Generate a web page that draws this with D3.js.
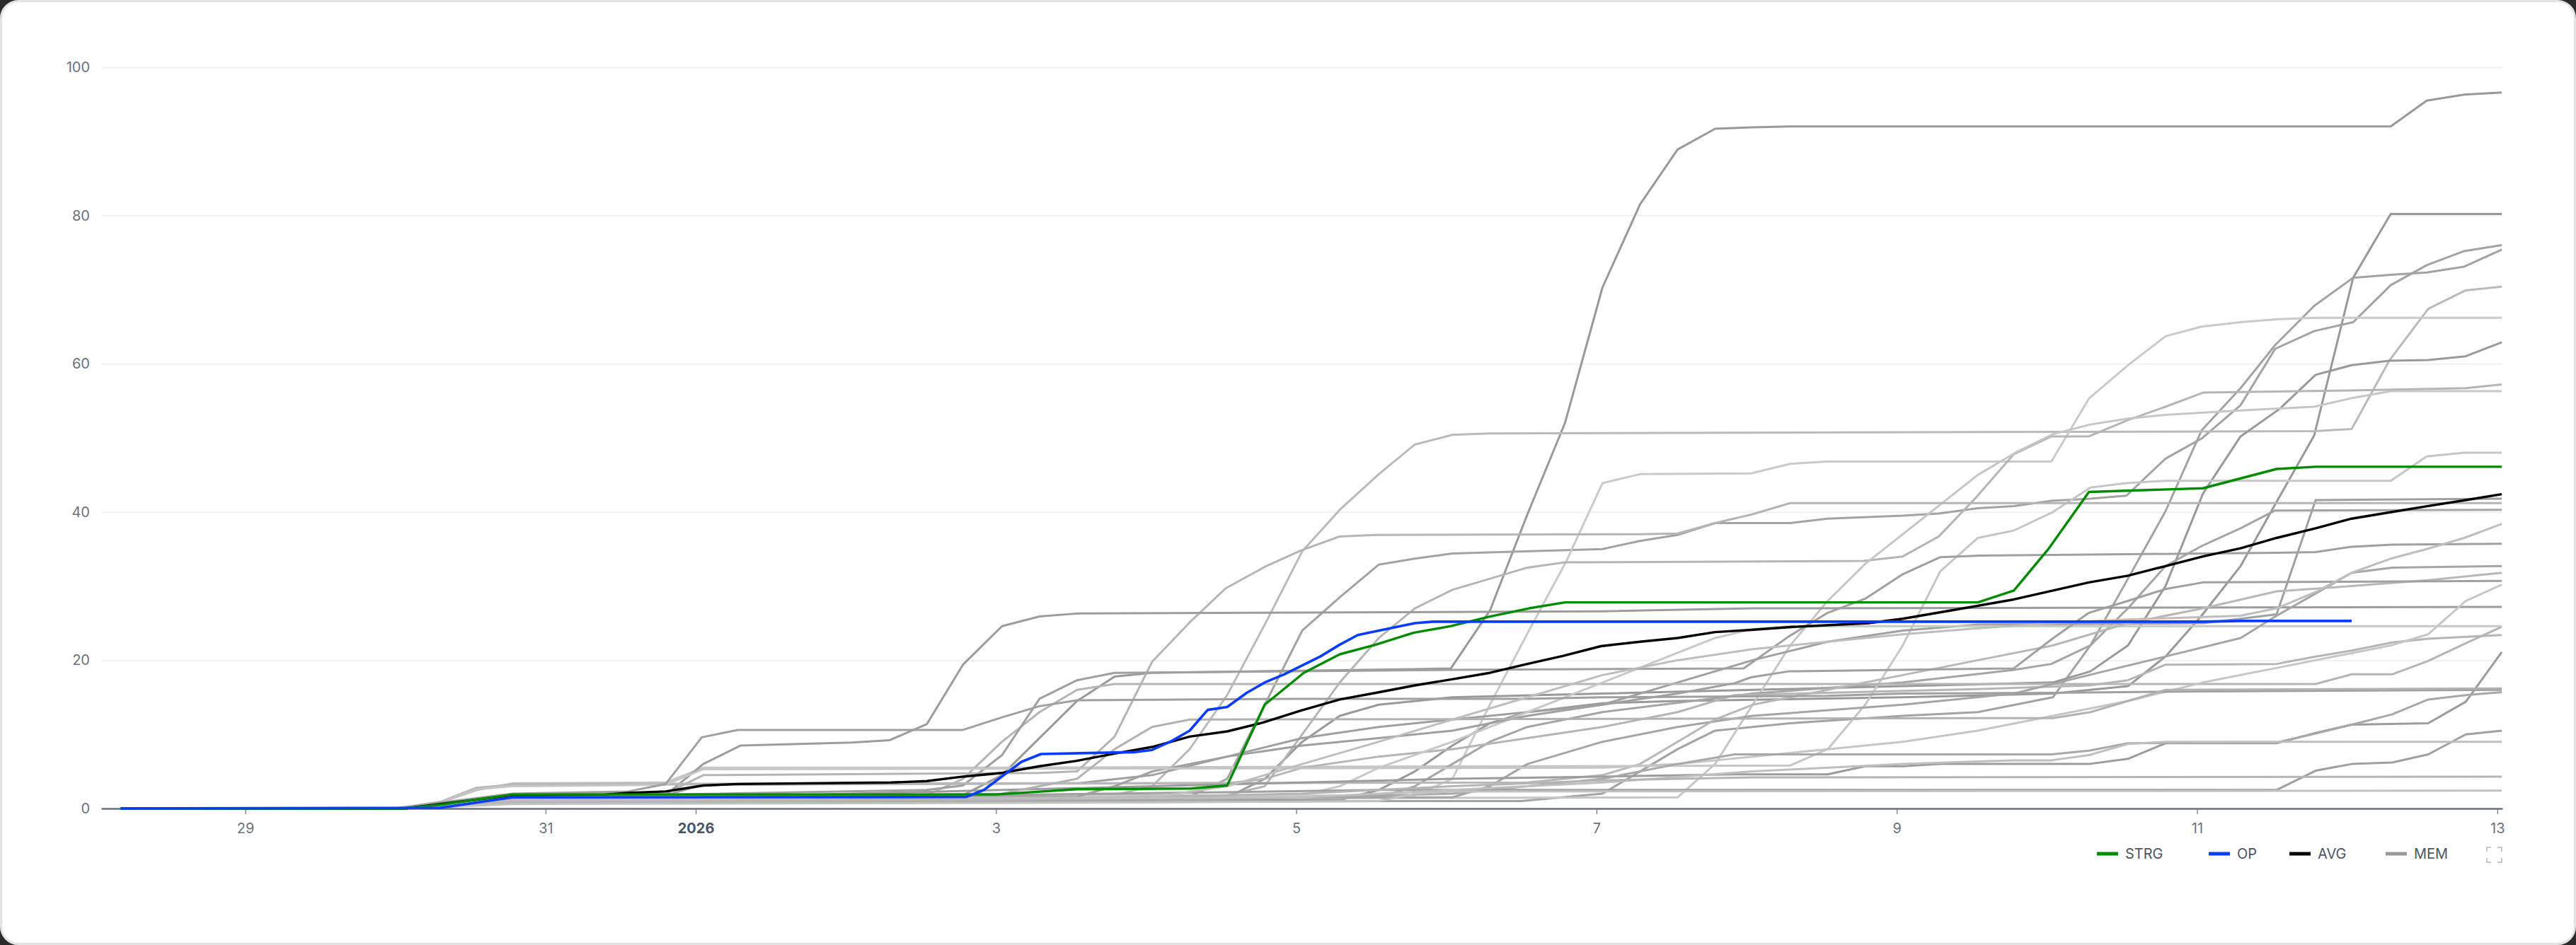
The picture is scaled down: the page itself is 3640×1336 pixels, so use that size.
<!DOCTYPE html>
<html>
<head>
<meta charset="utf-8">
<script src="https://cdn.jsdelivr.net/npm/d3@7"></script>
<style>
  html, body { margin: 0; padding: 0; background: #2b2b2b; overflow: hidden; }
  #card { position: absolute; left: 0; top: 0; width: 3634px; height: 1330px; background: #fff;
          border: 3px solid #e3e3e3; border-radius: 26px; }
  #chart { position: absolute; left: 0; top: 0; }
  text { font-family: Inter, "Noto Sans", sans-serif; }
</style>
</head>
<body>
<div id="card"></div>
<div id="chart"></div>
<script>
// values: [day offset from 2026-01-01 00:00, value]
const strg = [[-3.83,0],[-1.94,0],[-1.7,0.5],[-1.22,1.9],[2.0,1.9],[2.54,2.6],[3.3,2.7],[3.54,3.1],[3.79,14],[4.05,18.3],[4.29,20.8],[4.53,22.1],[4.78,23.7],[5.03,24.6],[5.29,25.9],[5.55,27],[5.79,27.8],[8.54,27.8],[8.78,29.4],[9.01,35],[9.28,42.7],[10.04,43.2],[10.53,45.8],[10.79,46.1],[12.03,46.1]]
const op = [[-3.83,0],[-1.7,0.1],[-1.22,1.5],[1.8,1.55],[1.92,2.5],[2.17,6.3],[2.3,7.35],[2.92,7.6],[3.04,7.9],[3.17,9.1],[3.29,10.5],[3.41,13.3],[3.54,13.7],[3.67,15.6],[3.8,17.1],[3.92,18.1],[4.16,20.5],[4.29,22.1],[4.41,23.4],[4.67,24.5],[4.79,25],[4.91,25.2],[10.04,25.2],[10.29,25.3],[11.03,25.3]]
const avg = [[-3.83,0],[-1.94,0],[-1.7,0.6],[-1.22,1.8],[-0.6,1.9],[-0.45,2.1],[-0.2,2.3],[0.05,3.1],[0.28,3.3],[1.3,3.5],[1.54,3.7],[1.78,4.3],[2.04,4.8],[2.29,5.7],[2.53,6.4],[2.79,7.4],[3.04,8.3],[3.29,9.7],[3.54,10.4],[3.78,11.6],[4.03,13.2],[4.29,14.7],[4.53,15.6],[4.79,16.6],[5.03,17.4],[5.29,18.3],[5.54,19.5],[5.78,20.6],[6.03,21.9],[6.29,22.5],[6.54,23],[6.79,23.8],[7.03,24.1],[7.31,24.5],[7.81,25],[8.04,25.6],[8.3,26.5],[8.78,28.2],[9.28,30.5],[9.54,31.4],[9.79,32.7],[10.04,34],[10.29,35.1],[10.53,36.5],[10.79,37.8],[11.03,39.1],[11.3,40],[11.54,40.8],[11.79,41.6],[12.03,42.4]]

const mem01 = [[-3.83,0],[-2,0],[-1.7,0.8],[-1.22,1.6],[1.78,1.8],[2.04,4.5],[2.29,9.5],[2.54,14.5],[2.79,17.8],[3.04,18.3],[4.79,18.8],[5.03,18.9],[5.29,26.7],[5.54,39.7],[5.79,52],[6.04,70.3],[6.29,81.5],[6.54,88.9],[6.79,91.7],[7.04,91.9],[7.29,92],[11.29,92],[11.53,95.5],[11.78,96.3],[12.03,96.6]]
const mem02 = [[-3.83,0],[-2,0],[-1.7,0.4],[-1.22,1.0],[4.3,1.2],[4.55,2.5],[4.79,5],[5.04,8.5],[5.29,11.5],[5.54,13],[6.04,14.2],[6.54,14.5],[8.04,15],[9.04,15.5],[9.54,16.5],[9.79,20.5],[10.03,26],[10.29,32.7],[10.52,41],[10.78,50.3],[11.04,71.6],[11.29,80.2],[12.03,80.2]]
const mem03 = [[-3.83,0],[-2,0],[-1.7,0.6],[-1.22,1.4],[3.29,1.6],[3.54,4],[3.79,14],[4.04,24],[4.29,28.5],[4.55,32.9],[4.79,33.7],[5.04,34.4],[6.04,35],[6.29,36.1],[6.54,36.9],[6.79,38.5],[7.29,38.5],[7.54,39.1],[8.04,39.5],[8.28,39.8],[8.54,40.5],[8.78,40.8],[9.03,41.5],[9.29,41.8],[9.53,42.2],[9.79,47.2],[10.03,49.9],[10.29,54.4],[10.52,62],[10.78,64.4],[11.04,65.6],[11.29,70.6],[11.53,73.3],[11.78,75.2],[12.03,76]]
const mem04 = [[-3.83,0],[-2,0],[-1.7,0.3],[-1.22,0.9],[5.5,1],[6.04,2],[6.29,5],[6.54,8],[6.79,10.5],[7.29,11.5],[8.04,12.5],[8.54,13],[9.04,15],[9.29,22],[9.54,31],[9.79,40.1],[10.03,51],[10.29,56.7],[10.52,62.5],[10.78,67.8],[11.04,71.6],[11.29,72],[11.53,72.3],[11.78,73.1],[12.03,75.4]]
const mem05 = [[-3.83,0],[-2,0],[-1.7,0.5],[-1.22,1.5],[2.79,1.8],[3.04,3],[3.29,8],[3.54,15.3],[3.79,24.8],[4.04,34.7],[4.29,40.3],[4.55,45.1],[4.79,49.1],[5.04,50.4],[5.29,50.6],[10.79,50.9],[11.03,51.2],[11.28,60.4],[11.54,67.4],[11.79,69.9],[12.03,70.4]]
const mem06 = [[-3.83,0],[-2,0],[-1.7,0.5],[-1.22,1.3],[4.79,1.8],[5.04,4],[5.29,14],[5.55,24],[5.8,33.4],[6.04,43.9],[6.29,45.1],[7.03,45.2],[7.29,46.5],[7.54,46.8],[9.03,46.8],[9.28,55.3],[9.54,59.8],[9.79,63.7],[10.03,65],[10.29,65.6],[10.54,66],[10.79,66.2],[12.03,66.2]]
const mem07 = [[-3.83,0],[-2,0],[-1.7,0.5],[-1.22,1.2],[3.54,1.5],[3.79,4],[4.04,9],[4.29,12.5],[4.55,14],[5.04,15],[6.04,15.5],[7.04,16],[8.04,16.5],[9.04,17],[9.29,18.5],[9.54,22],[9.79,30],[10.04,42.5],[10.29,50.2],[10.55,53.9],[10.79,58.5],[11.03,59.8],[11.28,60.4],[11.54,60.5],[11.79,61],[12.03,62.9]]
const mem08 = [[-3.83,0],[-2,0],[-1.7,0.5],[-1.22,1.5],[3.54,1.8],[3.79,3],[4.04,10],[4.29,17],[4.55,23],[4.79,27],[5.04,29.5],[5.29,31],[5.54,32.5],[5.79,33.2],[7.78,33.4],[8.04,34],[8.28,36.7],[8.53,42],[8.78,47.8],[9.03,50.2],[9.28,50.2],[9.54,52.4],[9.79,54.2],[10.04,56.1],[11.03,56.4],[11.79,56.7],[12.03,57.2]]
const mem09 = [[-3.83,0],[-2,0],[-1.7,0.5],[-1.22,1.2],[6.54,1.5],[6.79,6],[7.04,14],[7.29,22],[7.54,28],[7.79,33],[8.04,37],[8.29,41],[8.54,45],[8.79,48],[9.04,50.5],[9.29,51.8],[9.54,52.6],[9.79,53.1],[10.29,53.7],[10.78,54.2],[11.04,55.4],[11.29,56.3],[12.03,56.3]]
const mem10 = [[-3.83,0],[-2,0],[-1.7,0.8],[-1.46,2.5],[-1.22,3.4],[-0.2,3.5],[0.05,5.5],[2.04,5.5],[7.29,5.8],[7.54,8],[7.79,14],[8.04,22],[8.29,32],[8.54,36.5],[8.78,37.5],[9.04,40],[9.29,43.3],[9.53,43.9],[9.79,44.2],[11.29,44.2],[11.53,47.5],[11.78,48],[12.03,48]]
const mem11 = [[-3.83,0],[-2,0],[-1.7,0.6],[-1.22,1.6],[-0.2,1.8],[0.05,3.2],[2.54,3.4],[3.04,4.5],[3.54,7],[4.04,9.5],[4.55,11],[5.04,12],[6.04,14],[6.54,17],[7.04,20],[7.54,22.5],[8.04,24],[8.54,24.8],[10.04,25],[10.29,25.6],[10.53,26.2],[10.79,41.6],[12.03,41.8]]
const mem12 = [[-3.83,0],[-2,0],[-1.7,0.5],[-1.22,1.3],[4.55,1.5],[4.79,3],[5.04,6],[5.29,9],[5.54,11],[6.04,13],[7.04,15.5],[8.04,17],[8.78,18.7],[9.03,19.5],[9.29,22],[9.54,27],[9.79,32.7],[10.03,35.4],[10.29,37.8],[10.52,40.2],[12.03,40.3]]
const mem13 = [[-3.83,0],[-2,0],[-1.7,0.7],[-1.22,1.7],[-0.2,2],[0.05,4.5],[2.29,4.8],[2.54,5],[2.79,9.7],[3.04,19.8],[3.29,25.1],[3.53,29.7],[3.8,32.7],[4.03,34.8],[4.29,36.7],[4.53,36.9],[6.29,37],[6.54,37.1],[6.79,38.5],[7.04,39.7],[7.29,41.2],[12.03,41.2]]
const mem14 = [[-3.83,0],[-2,0],[-1.7,0.6],[-1.22,1.5],[-0.2,1.8],[0.05,6],[0.3,8.5],[1.04,8.9],[1.29,9.2],[1.54,11.4],[1.78,19.4],[2.04,24.6],[2.29,25.9],[2.54,26.3],[6.04,26.6],[7.04,27],[12.03,27.2]]
const mem15 = [[-3.83,0],[-2,0],[-1.7,0.5],[-1.22,1.5],[1.54,1.8],[1.78,4],[2.04,9],[2.29,13],[2.54,16],[2.79,16.8],[10.79,16.8],[11.03,18.1],[11.3,18.1],[11.54,19.9],[11.79,22.3],[12.03,24.5]]
const mem16 = [[-3.83,0],[-2,0],[-1.7,0.9],[-1.46,2.8],[-1.22,3.2],[3.54,3.4],[3.79,4],[4.04,5.5],[4.55,7],[5.04,8],[5.54,9.5],[6.04,11],[6.54,13],[6.92,15.3],[8.53,16.1],[9.28,16.6],[9.54,17.3],[9.79,19.4],[10.53,19.5],[10.79,20.5],[11.03,21.3],[11.3,22.4],[11.54,22.9],[12.03,23.4]]
const mem17 = [[-3.83,0],[-2,0],[-1.7,0.5],[-1.22,1.3],[4.04,1.8],[4.29,3],[4.55,5.5],[5.04,9],[5.54,13],[6.04,17],[6.29,19],[6.54,21],[6.79,23],[7.04,24.2],[7.29,24.6],[12.03,24.6]]
const mem18 = [[-3.83,0],[-2,0],[-1.7,0.6],[-1.22,1.5],[1.54,2.5],[1.78,3.1],[2.04,7.2],[2.29,14.8],[2.54,17.3],[2.79,18.3],[5.03,18.7],[6.98,18.9],[7.28,23.2],[7.54,26.4],[7.79,28.3],[8.04,31.6],[8.29,33.9],[8.53,34.1],[9.54,34.3],[10.53,34.5],[10.79,34.6],[11.03,35.3],[11.3,35.6],[12.03,35.7]]
const mem19 = [[-3.83,0],[-2,0],[-1.7,0.4],[-1.22,1.2],[5.04,1.5],[5.29,3],[5.54,6],[6.04,9],[6.54,11],[7.04,12.5],[8.04,14],[8.78,15.5],[9.28,18],[9.79,20.5],[10.29,23],[10.53,26],[10.79,29],[11.03,31.8],[11.3,32.5],[12.03,32.7]]
const mem20 = [[-3.83,0],[-2,0],[-1.7,0.8],[-1.46,2.5],[-1.22,3.3],[5.54,3.5],[6.04,4.5],[6.29,6],[6.54,9],[6.79,12],[7.04,14],[7.54,16],[8.04,18],[8.54,20],[9.04,22],[9.54,25],[10.04,27],[10.53,29.3],[11.03,30],[11.54,30.8],[12.03,31.8]]
const mem21 = [[-3.83,0],[-2,0],[-1.7,0.5],[-1.22,1.3],[2.54,1.6],[2.79,3],[3.04,5],[3.54,7],[4.04,8.5],[4.55,9.5],[5.04,10.5],[5.54,12.5],[6.04,14],[6.54,15.5],[6.92,16.9],[7.03,17.7],[7.28,18.5],[8.78,18.9],[9.03,22.8],[9.28,26.4],[9.54,28],[9.79,29.6],[10.04,30.5],[12.03,30.7]]
const mem22 = [[-3.83,0],[-2,0],[-1.7,0.8],[-1.46,2.6],[-1.22,3],[-0.2,3.2],[0.05,5.3],[6.04,5.5],[6.54,6],[7.04,7],[7.54,8],[8.04,9],[8.54,10.5],[9.04,12.5],[9.54,14.5],[10.04,17],[10.54,19],[11.04,21],[11.29,22],[11.54,23.5],[11.79,28],[12.03,30.2]]
const mem23 = [[-3.83,0],[-2,0],[-1.7,0.4],[-1.22,1],[0.05,1.5],[1.04,2],[3.04,3],[4.04,3.5],[5.04,4],[6.04,4.3],[6.92,4.6],[7.54,4.6],[7.79,5.7],[8.04,5.7],[8.29,6],[9.28,6],[9.54,6.7],[9.79,8.8],[10.53,8.8],[10.79,10.2],[11.03,11.3],[11.54,11.5],[11.79,14.4],[12.03,21.1]]
const mem24 = [[-3.83,0],[-2,0],[-1.7,0.3],[-1.22,0.8],[3.04,1],[5.04,2],[6.04,4],[6.54,6],[6.92,7.3],[9.03,7.3],[9.28,7.8],[9.54,8.8],[10.53,8.9],[10.79,10.1],[11.03,11.3],[11.3,12.7],[11.54,14.7],[11.79,15.3],[12.03,15.7]]
const mem25 = [[-3.83,0],[-2,0],[-1.7,0.4],[-1.22,1],[-0.45,1.2],[3.54,2.2],[4.55,2.5],[10.53,2.5],[10.79,5.1],[11.03,6],[11.3,6.2],[11.54,7.3],[11.79,10],[12.03,10.5]]
const mem26 = [[-3.83,0],[-2,0],[-1.7,0.4],[-1.22,1],[4.04,1.5],[5.04,2.5],[6.04,3.5],[7.04,5],[8.04,6],[8.78,6.5],[9.03,6.5],[9.28,7.2],[9.54,8.7],[9.79,9],[12.03,9]]
const mem27 = [[-3.83,0],[-2,0],[-1.7,0.3],[-1.22,0.8],[2.04,1.2],[4.04,2],[5.04,3],[6.04,3.8],[7.04,4.2],[12.03,4.3]]
const mem28 = [[-3.83,0],[-2,0],[-1.7,0.2],[-1.22,0.6],[3.04,0.8],[4.55,1],[4.79,2],[5.04,2.3],[12.03,2.4]]
const mem29 = [[-3.83,0],[-2,0],[-1.7,0.8],[-1.22,2],[-0.45,2.3],[-0.2,3.3],[0.04,9.6],[0.28,10.6],[1.78,10.6],[2.04,12.3],[2.29,13.8],[2.54,14.6],[4.04,14.8],[5.54,14.8],[6.04,15],[7.54,15.2],[8.04,15.5],[9.04,15.6],[10.04,15.8],[12.03,16]]
const mem30 = [[-3.83,0],[-2,0],[-1.7,0.5],[-1.22,1.2],[2.04,2],[2.54,4],[2.79,8],[3.04,11],[3.29,12],[9.04,12.2],[9.29,13],[9.54,14.5],[9.79,16],[12.03,16.2]]
const mem31 = [[-3.83,0],[-2,0],[-1.7,0.5],[-1.22,1.2],[3.04,1.5],[3.54,3],[4.04,6],[4.55,9],[5.04,12],[5.54,15],[6.04,18],[6.54,20],[7.04,21.5],[7.54,22.5],[8.04,23.5],[8.54,24.3],[9.04,25],[9.54,25.5],[10.29,26],[10.53,27],[10.79,29.2],[11.03,31.8],[11.29,33.7],[11.53,35],[11.78,36.5],[12.03,38.4]]

const memSeries = [mem01, mem02, mem03, mem04, mem05, mem06, mem07, mem08, mem09, mem10, mem11, mem12, mem13, mem14, mem15, mem16,
  mem17, mem18, mem19, mem20, mem21, mem22, mem23, mem24, mem25, mem26, mem27, mem28, mem29, mem30, mem31]

const yTicks = [0, 20, 40, 60, 80, 100]
const legendNames = ['STRG', 'OP', 'AVG', 'MEM']

// styles
const memColors = ['#999999', '#999999', '#a3a3a3', '#a3a3a3', '#bababa', '#cacaca', '#999999', '#b5b5b5', '#c6c6c6', '#c6c6c6', '#a0a0a0',
  '#a5a5a5', '#b5b5b5', '#9c9c9c', '#b5b5b5', '#b5b5b5', '#c8c8c8', '#a0a0a0', '#a5a5a5', '#b8b8b8', '#a0a0a0', '#c6c6c6', '#9c9c9c',
  '#a8a8a8', '#a0a0a0', '#bfbfbf', '#b5b5b5', '#c2c2c2', '#a0a0a0', '#b2b2b2', '#bebebe']
const legendColors = ['#008c00', '#0a3cff', '#000000', '#999999']

const base = new Date(2026, 0, 1).getTime()
const toDate = d => new Date(base + d * 864e5)

const W = 3640, H = 1336
const x = d3.scaleTime().domain([toDate(-3.96), toDate(12.034)]).range([143, 3536])
const y = d3.scaleLinear().domain([0, 100]).range([1143, 95])

const svg = d3.select('#chart').append('svg')
  .attr('width', W)
  .attr('height', H)

// y axis + grid
const yAxis = svg.append('g')
  .attr('transform', 'translate(144,0)')
  .call(d3.axisLeft(y).tickValues(yTicks).tickSize(-(3536 - 144)).tickPadding(17))
yAxis.select('.domain').remove()
yAxis.selectAll('line').attr('stroke', '#f1f1f1').attr('stroke-width', 2)
yAxis.selectAll('text').attr('fill', '#6b7280').attr('font-size', 20)

// x axis
const xTicks = x.ticks(d3.timeDay.every(2))
const isYear = d => d.getMonth() === 0 && d.getDate() === 1
const xAxis = svg.append('g')
  .attr('transform', 'translate(0,' + y(0) + ')')
  .call(d3.axisBottom(x).tickValues(xTicks).tickSize(8).tickSizeOuter(0).tickPadding(13)
    .tickFormat(d => isYear(d) ? d.getFullYear() : d.getDate()))
xAxis.select('.domain').attr('stroke', '#6b7280').attr('stroke-width', 2.5)
xAxis.selectAll('.tick line').attr('stroke', '#6b7280').attr('stroke-width', 1.2)
xAxis.selectAll('.tick text')
  .attr('fill', d => isYear(d) ? '#4b5563' : '#6b7280')
  .attr('font-size', 20)
  .attr('font-weight', d => isYear(d) ? 700 : 400)

// lines
const line = d3.line()
  .x(d => x(toDate(d[0])))
  .y(d => y(d[1]))

const plot = svg.append('g').attr('fill', 'none').attr('stroke-linejoin', 'round')

plot.selectAll('path.mem')
  .data(memSeries)
  .join('path')
  .attr('class', 'mem')
  .attr('d', line)
  .attr('stroke', (d, i) => memColors[i])
  .attr('stroke-width', 3)

plot.append('path').datum(avg).attr('d', line).attr('stroke', legendColors[2]).attr('stroke-width', 3.4)
plot.append('path').datum(strg).attr('d', line).attr('stroke', legendColors[0]).attr('stroke-width', 3.4)
plot.append('path').datum(op).attr('d', line).attr('stroke', legendColors[1]).attr('stroke-width', 3.6)

// legend
const legendX = [2963, 3121, 3235, 3371]
const legend = svg.append('g').attr('transform', 'translate(0,1207)')
const item = legend.selectAll('g')
  .data(legendNames)
  .join('g')
  .attr('transform', (d, i) => 'translate(' + legendX[i] + ',0)')
item.append('line')
  .attr('x1', 0).attr('x2', 30)
  .attr('stroke', (d, i) => legendColors[i])
  .attr('stroke-width', 5)
item.append('text')
  .attr('x', 40)
  .attr('dy', '0.36em')
  .attr('font-size', 20)
  .attr('fill', '#4b5563')
  .text(d => d)

// fullscreen icon
const ic = svg.append('g')
  .attr('fill', 'none')
  .attr('stroke', '#c8c8c8')
  .attr('stroke-width', 2)
const x0 = 3514, y0 = 1198, s = 21, a = 6
ic.append('path').attr('d', `M${x0},${y0 + a}V${y0}H${x0 + a}M${x0 + s - a},${y0}H${x0 + s}V${y0 + a}M${x0 + s},${y0 + s - a}V${y0 + s}H${x0 + s - a}M${x0 + a},${y0 + s}H${x0}V${y0 + s - a}`)
</script>
</body>
</html>
